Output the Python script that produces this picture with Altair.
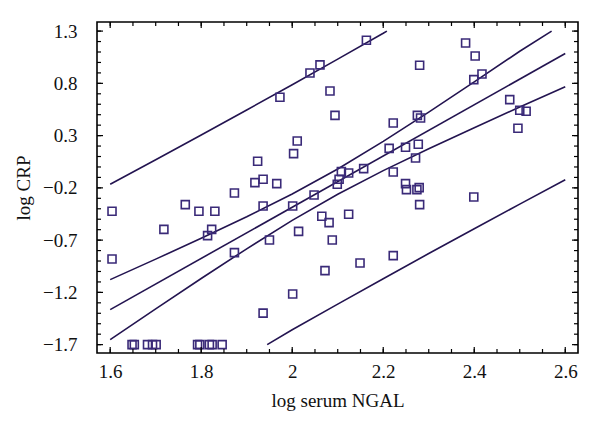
import altair as alt
import pandas as pd

# Scatter data (log serum NGAL, log CRP)
ngal = [1.604, 1.604, 1.648, 1.653, 1.682, 1.693, 1.701, 1.792, 1.797, 1.818, 1.824, 1.846,
        1.718, 1.765, 1.795, 1.830, 1.823, 1.814, 1.873, 1.873, 1.918, 1.936, 1.966, 1.936,
        1.936, 2.001, 2.014, 1.950, 2.001, 2.048, 2.065, 2.081, 2.088, 2.072, 2.099, 2.103,
        2.108, 1.973, 2.039, 2.061, 2.083, 2.094, 2.011, 2.003, 1.924, 2.163, 2.381, 2.402,
        2.280, 2.417, 2.399, 2.478, 2.500, 2.514, 2.496, 2.275, 2.282, 2.222, 2.213, 2.249,
        2.277, 2.271, 2.157, 2.222, 2.124, 2.249, 2.251, 2.274, 2.279, 2.280, 2.399, 2.124,
        2.149, 2.222]
crp = [-0.424, -0.881, -1.70, -1.70, -1.70, -1.70, -1.70, -1.70, -1.70, -1.70, -1.70, -1.70,
       -0.597, -0.360, -0.424, -0.424, -0.597, -0.657, -0.820, -0.249, -0.150, -0.118, -0.159, -0.374,
       -1.398, -0.374, -0.616, -0.699, -1.216, -0.268, -0.472, -0.533, -0.699, -0.992, -0.166, -0.118,
       -0.045, 0.667, 0.899, 0.977, 0.727, 0.494, 0.248, 0.128, 0.054, 1.212, 1.186, 1.062,
       0.973, 0.889, 0.836, 0.644, 0.542, 0.533, 0.370, 0.494, 0.468, 0.421, 0.178, 0.188,
       0.217, 0.086, -0.016, -0.048, -0.058, -0.159, -0.217, -0.217, -0.198, -0.360, -0.288, -0.453,
       -0.919, -0.848]

# Regression line
reg_x = [1.6, 2.6]
reg_y = [-1.365, 1.085]

# 95% confidence band
ci_x = [1.6, 1.7, 1.8, 1.9, 2.0, 2.1, 2.2, 2.3, 2.4, 2.5, 2.57]
ci_up = [-1.078, -0.882, -0.683, -0.477, -0.259, -0.019, 0.245, 0.525, 0.814, 1.107, 1.30]
ci_lo_x = [1.6, 1.7, 1.8, 1.9, 2.0, 2.1, 2.2, 2.3, 2.4, 2.5, 2.6]
ci_lo = [-1.652, -1.358, -1.067, -0.783, -0.511, -0.261, -0.035, 0.175, 0.376, 0.573, 0.767]

# 95% prediction band
pi_up_x = [1.6, 1.7, 1.8, 1.9, 2.0, 2.1, 2.2, 2.208]
pi_up = [-0.165, 0.069, 0.306, 0.545, 0.787, 1.032, 1.279, 1.30]
pi_lo_x = [1.945, 2.0, 2.1, 2.2, 2.3, 2.4, 2.5, 2.6]
pi_lo = [-1.70, -1.557, -1.312, -1.069, -0.828, -0.591, -0.356, -0.123]

# Axis ticks
x_major = [1.6, 1.8, 2.0, 2.2, 2.4, 2.6]
x_minor = [1.6 + 0.05 * i for i in range(21)]
y_major = [-1.7, -1.2, -0.7, -0.2, 0.3, 0.8, 1.3]
y_minor = [round(-1.7 + 0.1 * i, 2) for i in range(31)]

X_DOM = [1.571, 2.628]
Y_DOM = [-1.780, 1.387]
W, H = 481, 331
LINE = "#231450"
PT = "#3a2a78"
FONT = "Liberation Serif"

xs = alt.Scale(domain=X_DOM, nice=False, zero=False)
ys = alt.Scale(domain=Y_DOM, nice=False, zero=False)

pts = pd.DataFrame({"x": ngal, "y": crp})

lines = []
for name, lx, ly in [("reg", reg_x, reg_y), ("ciu", ci_x, ci_up), ("cil", ci_lo_x, ci_lo),
                     ("piu", pi_up_x, pi_up), ("pil", pi_lo_x, pi_lo)]:
    for a, b in zip(lx, ly):
        lines.append({"x": a, "y": b, "s": name})
ldf = pd.DataFrame(lines)

base_x = alt.X("x:Q", scale=xs,
               axis=alt.Axis(values=x_major, format="~g", ticks=False, grid=False,
                             labelPadding=9, title="log serum NGAL", titlePadding=10,
                             domain=False))
base_y = alt.Y("y:Q", scale=ys,
               axis=alt.Axis(values=y_major, format=".1f", ticks=False, grid=False,
                             labelExpr="replace(datum.label, /[-\u2212]/, '\u2212')",
                             labelPadding=20, title="log CRP", titlePadding=9,
                             domain=False))

line_layer = alt.Chart(ldf).mark_line(color=LINE, strokeWidth=1.6).encode(
    x=base_x, y=base_y, detail="s:N", order="x:Q")

pt_layer = alt.Chart(pts).mark_point(shape="square", filled=False, color=PT,
                                     size=64, strokeWidth=1.6, opacity=1).encode(
    x=alt.X("x:Q", scale=xs), y=alt.Y("y:Q", scale=ys))

xmaj = pd.DataFrame({"x": x_major})
xmin = pd.DataFrame({"x": x_minor})
ymaj = pd.DataFrame({"y": y_major})
ymin = pd.DataFrame({"y": y_minor})

def xticks(df, ln):
    b = alt.Chart(df).mark_rule(color="black", strokeWidth=1.2).encode(
        x=alt.X("x:Q", scale=xs), y=alt.value(H), y2=alt.value(H - ln))
    t = alt.Chart(df).mark_rule(color="black", strokeWidth=1.2).encode(
        x=alt.X("x:Q", scale=xs), y=alt.value(0), y2=alt.value(ln))
    return [b, t]

def yticks(df, ln):
    l = alt.Chart(df).mark_rule(color="black", strokeWidth=1.2).encode(
        y=alt.Y("y:Q", scale=ys), x=alt.value(0), x2=alt.value(ln))
    r = alt.Chart(df).mark_rule(color="black", strokeWidth=1.2).encode(
        y=alt.Y("y:Q", scale=ys), x=alt.value(W), x2=alt.value(W - ln))
    return [l, r]

tick_layers = xticks(xmin, 4) + xticks(xmaj, 6) + yticks(ymin, 4) + yticks(ymaj, 6)

chart = alt.layer(line_layer, pt_layer, *tick_layers).properties(
    width=W, height=H,
    background="white",
    autosize=alt.AutoSizeParams(type="none"),
    padding={"left": 89, "top": 14, "right": 14, "bottom": 60},
).configure_view(stroke="black", strokeWidth=1.6).configure_axis(
    labelFont=FONT, titleFont=FONT, labelFontSize=19, titleFontSize=19,
    labelColor="#111111", titleColor="#111111", titleFontWeight="normal",
)

chart.save("out.html", embed_options={"renderer": "svg", "actions": False})
